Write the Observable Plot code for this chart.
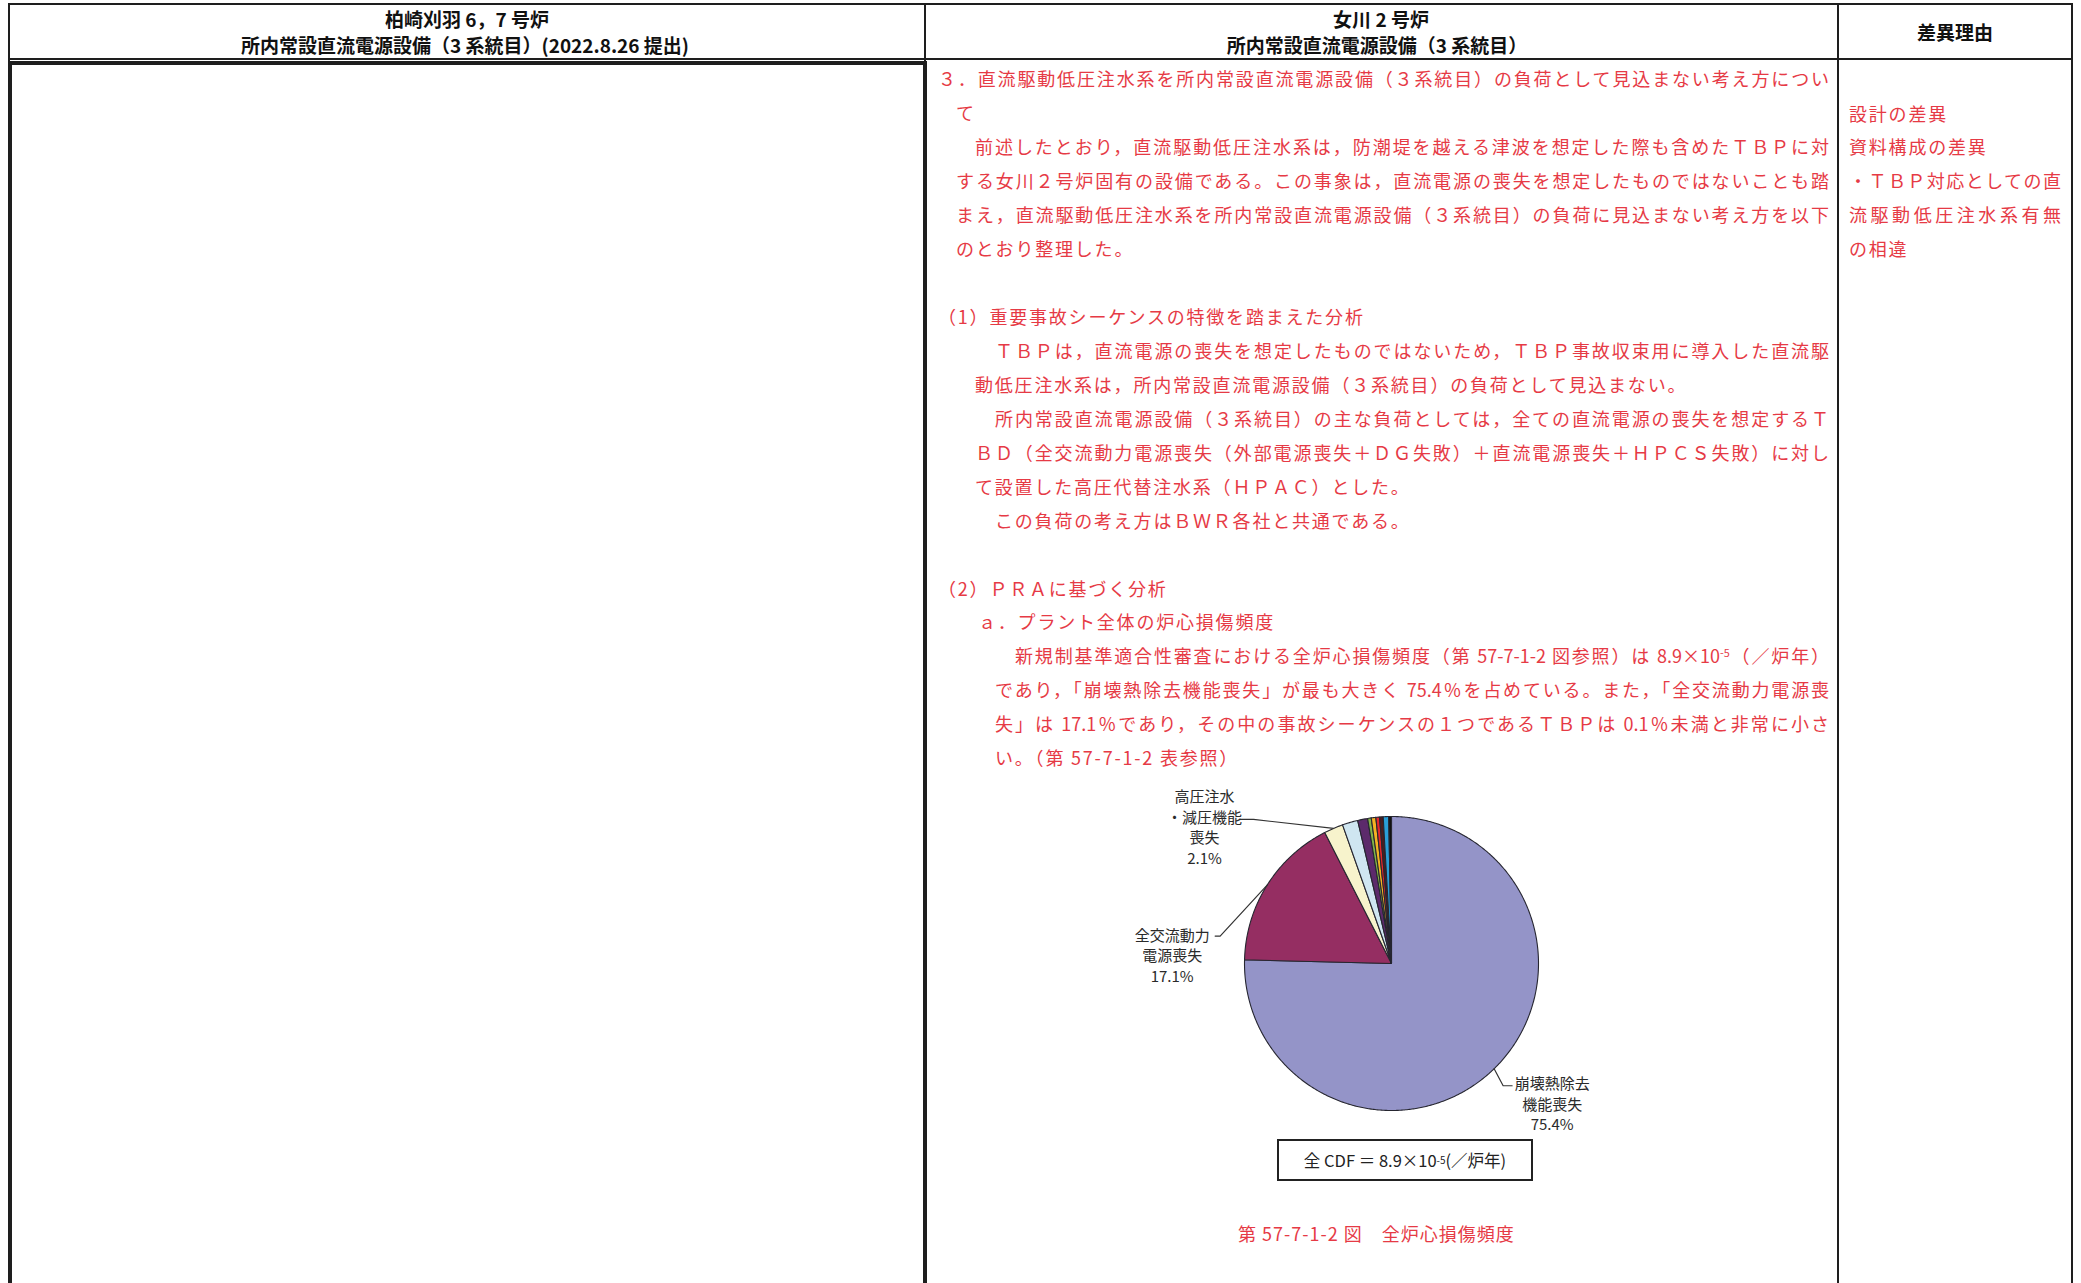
<!DOCTYPE html>
<html lang="ja">
<head>
<meta charset="utf-8">
<script src="https://cdn.jsdelivr.net/npm/d3@7"></script>
<script src="https://cdn.jsdelivr.net/npm/@observablehq/plot@0.6"></script>
<style>
html,body{margin:0;padding:0;background:#fff;}
#page{position:relative;width:2081px;height:1283px;overflow:hidden;font-family:"Noto Sans CJK JP","Noto Sans",sans-serif;background:#fff;}
.rule{position:absolute;background:#1e1e1e;}
.hd{position:absolute;font-weight:700;font-size:19px;color:#111;line-height:24px;white-space:nowrap;transform:translateX(-50%);}
.ln{position:absolute;font-size:18px;line-height:24px;color:#e63a45;white-space:nowrap;letter-spacing:1.8px;}
.ln.j{white-space:normal;letter-spacing:0;text-align:justify;text-align-last:justify;}
.ln sup,.cdf sup{font-size:0.6em;line-height:0;vertical-align:0.6em;}
.cdf{position:absolute;box-sizing:border-box;border:2px solid #222;display:flex;align-items:center;justify-content:center;font-size:16.5px;color:#222;white-space:nowrap;}
#pie{position:absolute;}
</style>
</head>
<body>
<div id="page"></div>
<script>
// ---------------- chart data ----------------
const sliceNames = [
  "崩壊熱除去機能喪失", "全交流動力電源喪失", "高圧注水・減圧機能喪失",
  "その他①", "その他②", "その他③", "その他④", "その他⑤", "その他⑥", "その他⑦", "その他⑧"
];
const sliceValues = [75.4, 17.1, 2.1, 1.7, 1.1, 0.4, 0.5, 0.4, 0.4, 0.6, 0.3];
const sliceColors = ["#9494c8", "#952e62", "#f7f3cc", "#cfe6f1", "#5c2a6b", "#82b446", "#f4b223", "#e5262b", "#4b1e1f", "#2a9fd8", "#111111"];
const labelNames = ["崩壊熱除去\n機能喪失", "全交流動力\n電源喪失", "高圧注水\n・減圧機能\n喪失"];
const cdfText = "全 CDF ＝ 8.9×10<sup>-5</sup>(／炉年)";
const captionText = "第 57-7-1-2 図　全炉心損傷頻度";

// ---------------- document text ----------------
const headerLines = [
  ["柏崎刈羽 6，7 号炉", 467, 19],
  ["所内常設直流電源設備（3 系統目）(2022.8.26 提出)", 465, 45],
  ["女川 2 号炉", 1381, 19],
  ["所内常設直流電源設備（3 系統目）", 1377, 45],
  ["差異理由", 1955, 32]
];
const bodyLines = [
  ["３．直流駆動低圧注水系を所内常設直流電源設備（３系統目）の負荷として見込まない考え方につい", 938, 78, 1829],
  ["て", 956, 112, null],
  ["前述したとおり，直流駆動低圧注水系は，防潮堤を越える津波を想定した際も含めたＴＢＰに対", 975, 146, 1829],
  ["する女川２号炉固有の設備である。この事象は，直流電源の喪失を想定したものではないことも踏", 956, 180, 1829],
  ["まえ，直流駆動低圧注水系を所内常設直流電源設備（３系統目）の負荷に見込まない考え方を以下", 956, 214, 1829],
  ["のとおり整理した。", 956, 248, null],
  ["（1）重要事故シーケンスの特徴を踏まえた分析", 938, 316, null],
  ["ＴＢＰは，直流電源の喪失を想定したものではないため，ＴＢＰ事故収束用に導入した直流駆", 995, 350, 1829],
  ["動低圧注水系は，所内常設直流電源設備（３系統目）の負荷として見込まない。", 975, 384, null],
  ["所内常設直流電源設備（３系統目）の主な負荷としては，全ての直流電源の喪失を想定するＴ", 995, 418, 1829],
  ["ＢＤ（全交流動力電源喪失（外部電源喪失＋ＤＧ失敗）＋直流電源喪失＋ＨＰＣＳ失敗）に対し", 975, 452, 1829],
  ["て設置した高圧代替注水系（ＨＰＡＣ）とした。", 975, 486, null],
  ["この負荷の考え方はＢＷＲ各社と共通である。", 995, 520, null],
  ["（2）ＰＲＡに基づく分析", 938, 588, null],
  ["ａ．プラント全体の炉心損傷頻度", 978, 621, null],
  ["新規制基準適合性審査における全炉心損傷頻度（第 57-7-1-2 図参照）は 8.9×10<sup>-5</sup>（／炉年）", 1015, 655, 1829],
  ["であり，「崩壊熱除去機能喪失」が最も大きく 75.4％を占めている。また，「全交流動力電源喪", 995, 689, 1829],
  ["失」は 17.1％であり，その中の事故シーケンスの１つであるＴＢＰは 0.1％未満と非常に小さ", 995, 723, 1829],
  ["い。（第 57-7-1-2 表参照）", 995, 757, null],
  ["設計の差異", 1849, 113, null],
  ["資料構成の差異", 1849, 146, null],
  ["・ＴＢＰ対応としての直", 1849, 180, 2061],
  ["流駆動低圧注水系有無", 1849, 214, 2061],
  ["の相違", 1849, 248, null]
];

const page = document.getElementById("page");
function rule(l, t, w, h) {
  const d = document.createElement("div");
  d.className = "rule";
  Object.assign(d.style, {left: l + "px", top: t + "px", width: w + "px", height: h + "px"});
  page.appendChild(d);
}
// table rules
rule(8, 3, 2065, 2);          // top
rule(8, 3, 2, 58);            // header left edge
rule(8, 58, 2065, 2);         // header bottom
rule(924, 3, 2, 58);          // header divider 1
rule(1837, 3, 2, 1290);       // divider 2
rule(2071, 3, 2, 1290);       // right edge
// thick frame of left column
rule(8, 61, 919, 4);
rule(8, 61, 4, 1230);
rule(923, 61, 4, 1230);

headerLines.forEach(([t, x, cy]) => {
  const d = document.createElement("div");
  d.className = "hd";
  d.style.left = x + "px";
  d.style.top = (cy - 12) + "px";
  d.textContent = t;
  page.appendChild(d);
});
bodyLines.forEach(([t, x, cy, x2]) => {
  const d = document.createElement("div");
  d.className = "ln" + (x2 ? " j" : "");
  d.style.left = x + "px";
  d.style.top = (cy - 12) + "px";
  if (x2) d.style.width = (x2 - x) + "px";
  d.innerHTML = t;
  page.appendChild(d);
});

// ---------------- pie chart (Plot) ----------------
const W = 540, H = 440, R = 147, cx = 291, cy = 193;   // layout: px
const total = d3.sum(sliceValues);
let acc = 0;
const polys = [];
const mids = [];
sliceValues.forEach((v, i) => {
  const a0 = acc / total * 2 * Math.PI, a1 = (acc + v) / total * 2 * Math.PI;
  acc += v;
  mids.push((a0 + a1) / 2);
  const n = Math.max(2, Math.ceil((a1 - a0) / (Math.PI / 360)));
  polys.push({k: sliceNames[i], x: 0, y: 0, c: sliceColors[i]});
  for (let j = 0; j <= n; j++) {
    const a = a0 + (a1 - a0) * j / n;
    polys.push({k: sliceNames[i], x: Math.sin(a), y: Math.cos(a), c: sliceColors[i]});
  }
  polys.push({k: sliceNames[i], x: 0, y: 0, c: sliceColors[i]});
});

// label layout: pixel offsets from the rim point at each slice's mid-angle
const labelLayout = [
  {text: [-0.5, 0], block: [58, 34.5], leader: [[9, 17], [18, 17]]},
  {text: [0, 0], block: [-95, 69.5], leader: [[-47, 51], [-52, 51]]},
  {text: [0, 0], block: [-129, -2], leader: [[-80, -9], [-94, -9]]}
];
const labels = [], leaders = [];
labelNames.forEach((name, i) => {
  const rx = Math.sin(mids[i]), ry = Math.cos(mids[i]);
  const L = labelLayout[i];
  labels.push({x: rx + L.block[0] / R, y: ry - L.block[1] / R, t: name + "\n" + sliceValues[i] + "%"});
  leaders.push({k: i, x: rx, y: ry});
  L.leader.forEach(([dx, dy]) => leaders.push({k: i, x: rx + dx / R, y: ry - dy / R}));
});

const chart = Plot.plot({
  width: W, height: H, margin: 0,
  x: {domain: [-cx / R, (W - cx) / R], axis: null},
  y: {domain: [-(H - cy) / R, cy / R], axis: null},
  color: {type: "identity"},
  style: {background: "transparent", overflow: "visible", fontFamily: "'Noto Sans CJK JP', sans-serif"},
  marks: [
    Plot.line(polys, {x: "x", y: "y", z: "k", fill: "c", stroke: "#262630", strokeWidth: 1.1, curve: "linear", strokeLinejoin: "round"}),
    Plot.line(leaders, {x: "x", y: "y", z: "k", stroke: "#333", strokeWidth: 1.2, curve: "linear"}),
    Plot.text(labels, {x: "x", y: "y", text: "t", fontSize: 15, lineHeight: 1.37, fill: "#2a2a2a", textAnchor: "middle", lineAnchor: "middle"})
  ]
});
const pieWrap = document.createElement("div");
pieWrap.id = "pie";
pieWrap.style.left = "1100px";
pieWrap.style.top = "770px";
pieWrap.appendChild(chart);
page.appendChild(pieWrap);

// CDF box & caption
const box = document.createElement("div");
box.className = "cdf";
Object.assign(box.style, {left: "1277px", top: "1139px", width: "256px", height: "42px"});
box.innerHTML = cdfText;
page.appendChild(box);

const cap = document.createElement("div");
cap.className = "ln";
cap.style.left = "1238px";
cap.style.top = (1233 - 12) + "px";
cap.style.letterSpacing = "1px";
cap.textContent = captionText;
page.appendChild(cap);
</script>
</body>
</html>
